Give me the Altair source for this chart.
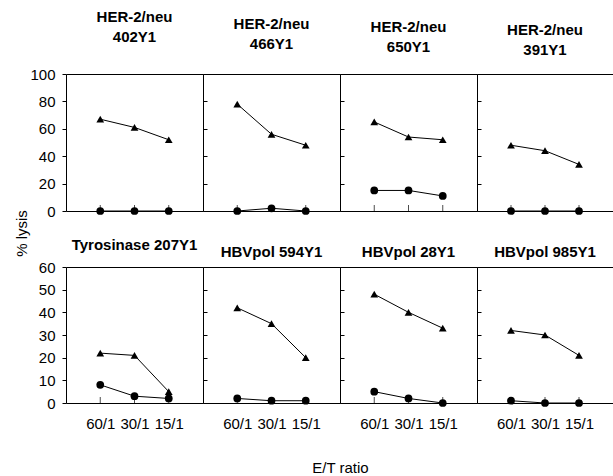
import altair as alt
import pandas as pd

ratios = ["60/1", "30/1", "15/1"]
top_titles = [["HER-2/neu", "402Y1"], ["HER-2/neu", "466Y1"],
              ["HER-2/neu", "650Y1"], ["HER-2/neu", "391Y1"]]
bottom_titles = ["Tyrosinase 207Y1", "HBVpol 594Y1", "HBVpol 28Y1", "HBVpol 985Y1"]

top_tri = [[67, 61, 52], [78, 56, 48], [65, 54, 52], [48, 44, 34]]
top_cir = [[0, 0, 0], [0, 2, 0], [15, 15, 11], [0, 0, 0]]
bot_tri = [[22, 21, 5], [42, 35, 20], [48, 40, 33], [32, 30, 21]]
bot_cir = [[8, 3, 2], [2, 1, 1], [5, 2, 0], [1, 0, 0]]

top_ticks = [0, 20, 40, 60, 80, 100]
bot_ticks = [0, 10, 20, 30, 40, 50, 60]

FONT = "Liberation Sans"
W = [137, 137, 137, 136]
TOP_OFFSETS = [22, 22, 19, 16]


def panel(tri, cir, title, ymax, yvals, i, row):
    df = pd.DataFrame({
        "ratio": ratios * 2,
        "lysis": tri + cir,
        "series": ["tri"] * 3 + ["cir"] * 3,
    })
    tickdf = pd.DataFrame({"ratio": ratios, "z": [0, 0, 0]})
    xscale = alt.Scale(type="point", domain=ratios, padding=1)
    yscale = alt.Scale(domain=[0, ymax], nice=False, zero=True)
    first = i == 0
    bottom = row == 1

    xb_kwargs = dict(orient="bottom", ticks=False, domain=True, domainColor="black",
                     domainWidth=1, labels=bottom, labelFontSize=15, labelFont=FONT,
                     labelColor="black", labelPadding=13, labelAngle=0, grid=False,
                     title=None)
    if bottom and i == 1:
        xb_kwargs.update(title="E/T ratio", titleFont=FONT, titleFontSize=15,
                         titleFontWeight="normal", titleColor="black",
                         titleX=W[1], titleY=64, titleAlign="center",
                         titleBaseline="middle")
    x_bottom = alt.Axis(**xb_kwargs)
    x_top = alt.Axis(orient="top", ticks=False, labels=False, domain=True,
                     domainColor="black", domainWidth=1, grid=False, title=None)

    yl_kwargs = dict(orient="left", values=yvals, labels=first, ticks=first,
                     tickSize=4, tickColor="black", domain=True, domainColor="black",
                     domainWidth=1, labelFontSize=15, labelFont=FONT, labelColor="black",
                     labelPadding=7, grid=False, title=None)
    if first and row == 0:
        yl_kwargs.update(title="% lysis", titleFont=FONT, titleFontSize=15,
                         titleFontWeight="normal", titleColor="black",
                         titleX=-45, titleY=159, titleAlign="center",
                         titleBaseline="middle", titleAngle=270)
    y_left = alt.Axis(**yl_kwargs)
    if i < 3:
        y_right = alt.Axis(orient="right", values=yvals, labels=False, ticks=True,
                           tickSize=4, tickColor="black", domain=False, grid=False,
                           title=None)
    else:
        y_right = None

    line = alt.Chart(df).mark_line(color="black", strokeWidth=1).encode(
        x=alt.X("ratio:O", scale=xscale, axis=x_bottom, sort=ratios),
        y=alt.Y("lysis:Q", scale=yscale, axis=y_left),
        detail="series:N",
    )
    pts = alt.Chart(df).mark_point(filled=True, color="black", opacity=1).encode(
        x=alt.X("ratio:O", scale=xscale, axis=x_top, sort=ratios),
        y=alt.Y("lysis:Q", scale=yscale, axis=y_right),
        shape=alt.Shape("series:N",
                        scale=alt.Scale(domain=["tri", "cir"],
                                        range=["triangle-up", "circle"]),
                        legend=None),
        size=alt.Size("series:N",
                      scale=alt.Scale(domain=["tri", "cir"], range=[60, 60]),
                      legend=None),
    )
    xt = alt.Chart(tickdf).mark_tick(orient="vertical", size=6, thickness=1,
                                     yOffset=-3, color="black").encode(
        x=alt.X("ratio:O", scale=xscale, axis=None, sort=ratios),
        y=alt.Y("z:Q", scale=yscale, axis=None),
    )
    if row == 0:
        tp = alt.TitleParams(text=title, fontSize=15, fontWeight="bold", font=FONT,
                             color="black", anchor="middle", lineHeight=20,
                             offset=TOP_OFFSETS[i])
    else:
        tp = alt.TitleParams(text=title, fontSize=15, fontWeight="bold", font=FONT,
                             color="black", anchor="middle", offset=7)
    return alt.layer(line, pts, xt).resolve_axis(
        x="independent", y="independent"
    ).properties(width=W[i], height=137 if row == 0 else 136, title=tp)


panels = [panel(top_tri[i], top_cir[i], top_titles[i], 100, top_ticks, i, 0) for i in range(4)]
panels += [panel(bot_tri[i], bot_cir[i], bottom_titles[i], 60, bot_ticks, i, 1) for i in range(4)]

chart = alt.concat(*panels, columns=4, spacing={"row": 56, "column": 0},
                   bounds="flush").properties(
    padding={"left": 14, "top": 10, "right": 0, "bottom": 0},
    background="white",
).configure_view(stroke=None)

chart.save("out.html", embed_options={"renderer": "svg", "actions": False})
